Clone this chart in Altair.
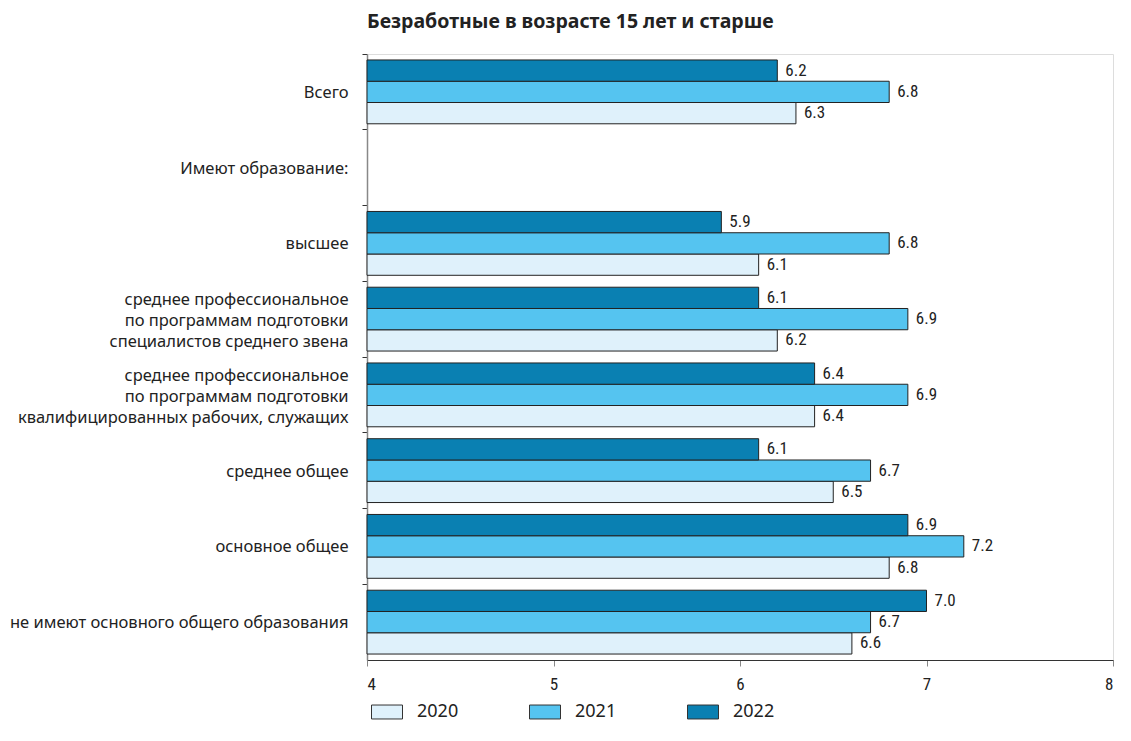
import altair as alt
import pandas as pd

categories = [
    "Всего",
    "Имеют образование:",
    "высшее",
    "среднее профессиональное|по программам подготовки|специалистов среднего звена",
    "среднее профессиональное|по программам подготовки|квалифицированных рабочих, служащих",
    "среднее общее",
    "основное общее",
    "не имеют основного общего образования",
]
years = ["2020", "2021", "2022"]
v2020 = [6.3, None, 6.1, 6.2, 6.4, 6.5, 6.8, 6.6]
v2021 = [6.8, None, 6.8, 6.9, 6.9, 6.7, 7.2, 6.7]
v2022 = [6.2, None, 5.9, 6.1, 6.4, 6.1, 6.9, 7.0]

rows = []
for yr, vals in zip(years, [v2020, v2021, v2022]):
    for c, v in zip(categories, vals):
        if v is not None:
            rows.append({"cat": c, "year": yr, "value": v, "lbl": f"{v:.1f}"})
df = pd.DataFrame(rows)

colors = ["#dff1fb", "#55c4f0", "#0a80b2"]
FONT = "Noto Sans"
NUMFONT = "Liberation Sans Narrow, Roboto Condensed, Liberation Sans"

y_enc = alt.Y(
    "cat:N",
    scale=alt.Scale(domain=categories, paddingInner=0, paddingOuter=0),
    axis=alt.Axis(
        title=None,
        labelExpr="split(datum.label, '|')",
        labelFont=FONT,
        labelFontSize=16.5,
        labelColor="#222",
        labelLineHeight=21,
        labelPadding=14,
        labelLimit=500,
        labelOffset={"condition": {"test": "indexof(datum.value, '|') >= 0", "value": -19}, "value": 1},
        bandPosition=0,
        tickColor="#333",
        tickSize=5,
        domainColor="#888",
        domainWidth=1.5,
    ),
)
yoff = alt.YOffset(
    "year:N",
    sort=["2022", "2021", "2020"],
    scale=alt.Scale(paddingInner=0, paddingOuter=0.28),
)

bars = alt.Chart(df).mark_bar(stroke="#222", strokeWidth=1).encode(
    x=alt.X(
        "value:Q",
        scale=alt.Scale(domain=[4, 8], zero=False, nice=False),
        axis=alt.Axis(
            title=None,
            values=[4, 5, 6, 7, 8],
            format="d",
            grid=False,
            labelFont=NUMFONT,
            labelFontSize=17,
            labelColor="#222",
            labelPadding=10,
            tickColor="#888",
            tickSize=6,
            domainColor="#333",
            domainWidth=1.2,
        ),
    ),
    x2=alt.datum(4),
    y=y_enc,
    yOffset=yoff,
    fill=alt.Fill(
        "year:N",
        scale=alt.Scale(domain=years, range=colors),
        legend=alt.Legend(
            title=None,
            orient="none",
            legendX=4,
            legendY=642,
            direction="horizontal",
            columns=3,
            symbolType="M-1,-0.45H1V0.45H-1Z",
            symbolSize=961,
            symbolStrokeColor="#333",
            symbolStrokeWidth=1,
            labelFont=FONT,
            labelFontSize=18,
            labelColor="#222",
            labelOffset=14,
            columnPadding=68,
        ),
    ),
)

text = alt.Chart(df).mark_text(
    align="left", baseline="middle", dx=8, font=NUMFONT, fontSize=17, color="#222"
).encode(
    x=alt.X("value:Q"),
    y=alt.Y("cat:N"),
    yOffset=yoff,
    text="lbl:N",
)

chart = (
    alt.layer(bars, text)
    .properties(
        width=746,
        height=606,
        padding={"top": 4, "left": 1, "right": 0, "bottom": 0},
        title=alt.TitleParams(
            "Безработные в возрасте 15 лет и старше",
            anchor="start",
            frame="group",
            dx=0,
            offset=21,
            font=FONT,
            fontSize=19.5,
            fontWeight="bold",
            color="#222",
        ),
    )
    .configure_view(stroke=None)
    .configure(background="white")
)

chart.save("out.html", embed_options={"renderer": "svg", "actions": False})
